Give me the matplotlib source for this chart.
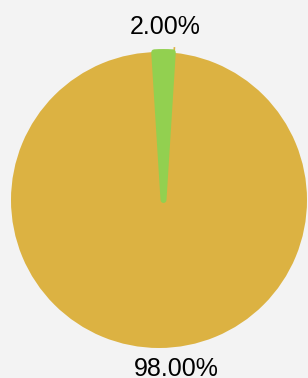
# Grafica de pastel con dos categorias
import numpy as np
import matplotlib.pyplot as plt

plt.rcParams['font.family'] = ['Liberation Sans', 'DejaVu Sans']

# Datos del grafico
categorias = ['Verde', 'Amarillo']
valores = [2.0, 98.0]
colores = ['#92d050', '#dcb242']
etiquetas = ['2.00%', '98.00%']

fig = plt.figure(figsize=(3.08, 3.78), dpi=100)
fig.patch.set_facecolor('#f3f3f3')
ax = fig.add_axes([0, 0, 1, 1])
ax.set_facecolor('#f3f3f3')

centro = (159, 178)
radio = 148
inicio = 90 - valores[0] / 100 * 180

wedges, _ = ax.pie(valores, colors=colores, startangle=inicio,
                   center=centro, radius=radio, explode=[-0.035, 0],
                   frame=True)
# borde redondeado en la rebanada verde, encima de la amarilla
wedges[0].set_edgecolor(colores[0])
wedges[0].set_linewidth(4.3)
wedges[0].set_joinstyle('round')
wedges[0].set_zorder(3)
# la rebanada verde aparece un poco corrida a la derecha
cx, cy = wedges[0].center
wedges[0].set_center((cx + 4.5, cy))
# la amarilla se extiende por debajo de la verde para no dejar hueco
wedges[1].set_theta1(wedges[1].theta2 - 360)
wedges[1].set_linewidth(0)

# pequena linea guia de la etiqueta pequena
ang = np.deg2rad(inicio - 0.5)
x0 = centro[0] + 4.5
ax.plot([x0 + radio * 1.0 * np.cos(ang), x0 + radio * 1.03 * np.cos(ang)],
        [centro[1] + radio * 1.0 * np.sin(ang), centro[1] + radio * 1.03 * np.sin(ang)],
        color=colores[1], lw=1.2, zorder=0.5)

ax.text(165, 351, etiquetas[0], ha='center', va='center', fontsize=18)
ax.text(176, 9, etiquetas[1], ha='center', va='center', fontsize=18)

ax.set_xlim(0, 308)
ax.set_ylim(0, 378)
ax.set_aspect('auto')
ax.axis('off')

fig.savefig('out.png', dpi=100, facecolor=fig.get_facecolor())
